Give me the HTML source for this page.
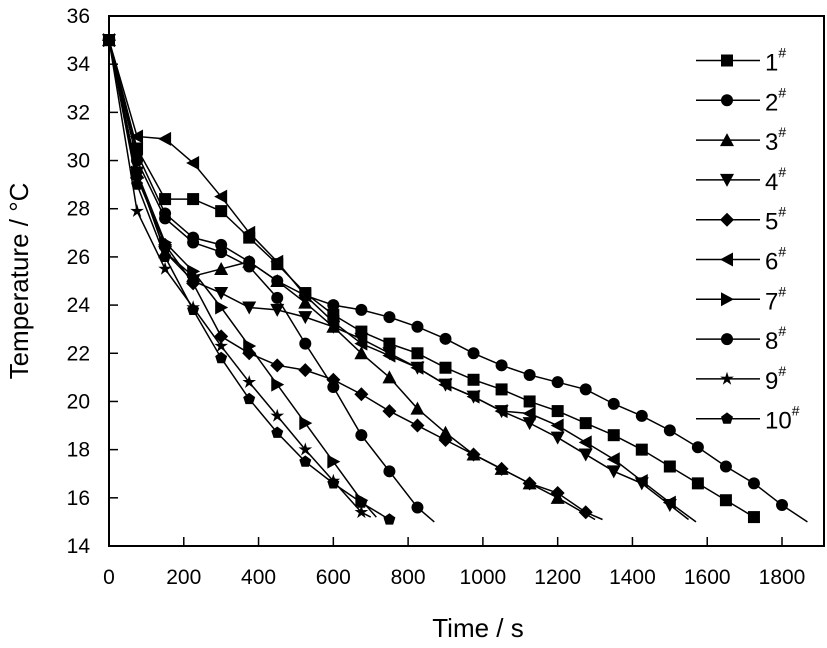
<!DOCTYPE html>
<html><head><meta charset="utf-8"><style>
html,body{margin:0;padding:0;background:#fff}
svg text{font-family:"Liberation Sans",Arial,sans-serif;fill:#000}
</style></head><body>
<svg id="chart" width="827" height="643" xmlns="http://www.w3.org/2000/svg">
<g id="axes"></g>
<g id="series"></g>
<g id="legend"></g>
<text x="478" y="637" font-size="26" text-anchor="middle">Time / s</text>
<text transform="translate(28,281) rotate(-90)" font-size="26" text-anchor="middle">Temperature / °C</text>
</svg>
<script>
const xTicks=[0,200,400,600,800,1000,1200,1400,1600,1800];
const yTicks=[14,16,18,20,22,24,26,28,30,32,34,36];
const seriesNames=["1","2","3","4","5","6","7","8","9","10"];
const markerTypes=["square","circle","up","down","diamond","left","right","circle","star","pentagon"];
const dt=75;
const s1=[35,30.5,28.4,28.4,27.9,26.8,25.7,24.5,23.6,22.9,22.4,22.0,21.4,20.9,20.5,20.0,19.6,19.1,18.6,18.0,17.3,16.6,15.9,15.2];
const s2=[35,30,27.6,26.6,26.2,25.6,24.3,22.4,20.6,18.6,17.1,15.6];
const s3=[35,29.5,26.2,25.2,25.5,25.8,25.0,24.1,23.1,22.0,21.0,19.7,18.7,17.8,17.2,16.6,16.0];
const s4=[35,29.5,26.2,25.0,24.5,23.9,23.8,23.5,23.1,22.6,22.0,21.4,20.7,20.2,19.6,19.1,18.5,17.8,17.1,16.6,15.7];
const s5=[35,29.3,26.5,24.9,22.7,22.0,21.5,21.3,20.9,20.3,19.6,19.0,18.4,17.8,17.2,16.6,16.2,15.4];
const s6=[35,31.0,30.9,29.9,28.5,27.0,25.8,24.4,23.3,22.4,21.9,21.4,20.7,20.2,19.6,19.5,19.0,18.3,17.6,16.7,15.8];
const s7=[35,29.5,26.6,25.4,23.9,22.3,20.7,19.1,17.5,15.9];
const s8=[35,30.3,27.8,26.8,26.5,25.8,25.0,24.4,24.0,23.8,23.5,23.1,22.6,22.0,21.5,21.1,20.8,20.5,19.9,19.4,18.8,18.1,17.3,16.6,15.7];
const s9=[35,27.9,25.5,23.9,22.3,20.8,19.4,18.0,16.7,15.4];
const s10=[35,29.0,26.0,23.8,21.8,20.1,18.7,17.5,16.6,15.8,15.1];
const endTimes=[1740,870,1300,1550,1320,1570,715,1868,700,760];
const endTemps=[15.0,15.0,15.1,15.1,15.1,15.0,15.2,15.0,15.2,15.0];
const allSeries=[s1,s2,s3,s4,s5,s6,s7,s8,s9,s10];

const X0=109,X1=824,Y0=546,Y1=16;
const xs=t=>X0+t*(782-X0)/1800;
const ys=v=>Y0-(v-14)*(Y0-Y1)/22;
const NS="http://www.w3.org/2000/svg";
function mk(tag,attrs,parent){const e=document.createElementNS(NS,tag);for(const k in attrs)e.setAttribute(k,attrs[k]);parent.appendChild(e);return e;}

const axes=document.getElementById('axes');
const frame=mk('rect',{x:X0,y:Y1,width:X1-X0,height:Y0-Y1,fill:'none',stroke:'#000','stroke-width':2},axes);


xTicks.forEach(t=>{
  const l=mk('line',{x1:xs(t),x2:xs(t),y1:Y0,y2:Y0-9,stroke:'#000','stroke-width':1.5},axes);
  
  
  const tx=mk('text',{x:xs(t),y:584,'font-size':21,'text-anchor':'middle'},axes);
  tx.textContent=t;
  
  
});
yTicks.forEach(v=>{
  const l=mk('line',{x1:X0,x2:X0+9,y1:ys(v),y2:ys(v),stroke:'#000','stroke-width':1.5},axes);
  
  
  const tx=mk('text',{x:90,y:ys(v)+7,'font-size':21,'text-anchor':'end'},axes);
  tx.textContent=v;
  
  
});

function marker(type,cx,cy,parent){
  const r=6;let e;
  if(type==='square')e=mk('rect',{x:cx-r,y:cy-r,width:2*r,height:2*r},parent);
  else if(type==='circle')e=mk('circle',{cx:cx,cy:cy,r:r},parent);
  else{
    let pts;
    if(type==='up')pts=[[0,-r-1],[r+1,r],[-r-1,r]];
    else if(type==='down')pts=[[0,r+1],[r+1,-r],[-r-1,-r]];
    else if(type==='left')pts=[[-r-1,0],[r,-r-1],[r,r+1]];
    else if(type==='right')pts=[[r+1,0],[-r,-r-1],[-r,r+1]];
    else if(type==='diamond')pts=[[0,-r-1],[r+1,0],[0,r+1],[-r-1,0]];
    else if(type==='pentagon'){pts=[];for(let i=0;i<5;i++){const a=-Math.PI/2+i*2*Math.PI/5;pts.push([r*1.05*Math.cos(a),r*1.05*Math.sin(a)]);}}
    else {pts=[];for(let i=0;i<10;i++){const a=-Math.PI/2+i*Math.PI/5;const rr=i%2?r*0.45:r*1.2;pts.push([rr*Math.cos(a),rr*Math.sin(a)]);}}
    e=mk('polygon',{points:pts.map(p=>(cx+p[0])+','+(cy+p[1])).join(' ')},parent);
  }
  e.setAttribute('fill','#000');
  return e;
}

const sg=document.getElementById('series');
allSeries.forEach((arr,i)=>{
  const g=mk('g',{},sg);
  
  
  const pts=arr.map((v,j)=>[xs(j*dt),ys(v)]);
  pts.push([xs(endTimes[i]),ys(endTemps[i])]);
  const pl=mk('polyline',{points:pts.map(p=>p.join(',')).join(' '),fill:'none',stroke:'#000','stroke-width':1.5},g);
  
  
  arr.forEach((v,j)=>{
    const m=marker(markerTypes[i],xs(j*dt),ys(v),g);
    
    
  });
});

const lg=document.getElementById('legend');
seriesNames.forEach((n,i)=>{
  const y=60.5+i*39.8;
  const g=mk('g',{},lg);
  
  
  mk('line',{x1:696,x2:760,y1:y,y2:y,stroke:'#000','stroke-width':1.5},g);
  marker(markerTypes[i],727,y,g);
  const t=mk('text',{x:765,y:y+10,'font-size':24},g);
  t.textContent=n;
  const s=mk('tspan',{'font-size':14,dy:-13},t);
  s.textContent='#';
});
</script>
</body></html>
